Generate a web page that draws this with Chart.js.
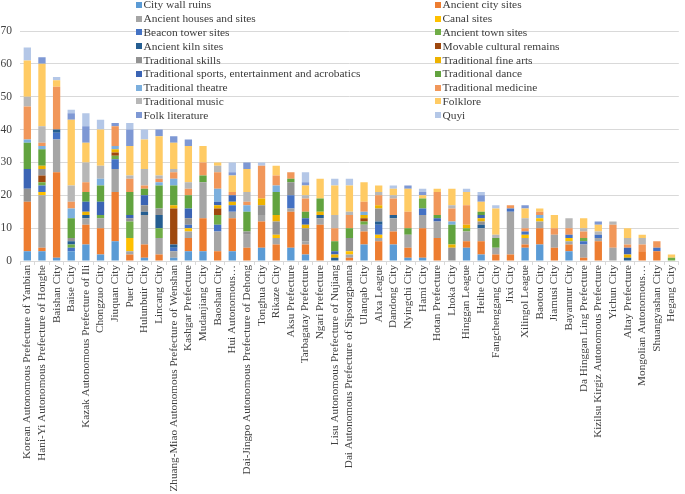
<!DOCTYPE html>
<html>
<head>
<meta charset="utf-8">
<script src="https://cdn.jsdelivr.net/npm/chart.js@4.4.0/dist/chart.umd.min.js"></script>
<style>
html,body{margin:0;padding:0;background:#ffffff;}
#wrap{position:relative;width:685px;height:494px;overflow:hidden;}
#legend{position:absolute;left:0;top:0;width:685px;height:130px;pointer-events:none;
  font-family:"Liberation Serif","Times New Roman",serif;font-size:11.4px;color:#3a3a3a;}
.lbox{position:absolute;width:6px;height:6px;}
.ltxt{position:absolute;white-space:nowrap;line-height:14px;}
</style>
</head>
<body>
<div id="wrap">
  <canvas id="c" width="685" height="494"></canvas>
  <div id="legend"></div>
</div>
<script>
const categories = [
  "Korean Autonomous Prefecture of Yanbian","Hani-Yi Autonomous Prefecture of Honghe","Baishan City","Baise City",
  "Kazak Autonomous Prefecture of Ili","Chongzuo City","Jiuquan City","Puer City","Hulunbuir City","Lincang City",
  "Zhuang-Miao Autonomous Prefecture of Wenshan","Kashgar Prefecture","Mudanjiang City","Baoshan City","Hui Autonomous…",
  "Dai-Jingpo Autonomous Prefecture of Dehong","Tonghua City","Rikaze City","Aksu Prefecture","Tarbagatay Prefecture",
  "Ngari Prefecture","Lisu Autonomous Prefecture of Nujiang","Dai Autonomous Prefecture of Sipsongpanna","Ulanqab City",
  "Alxa League","Dandong City","Nyingchi City","Hami City","Hotan Prefecture","Lhoka City","Hinggan League","Heihe City",
  "Fangchenggang City","Jixi City","Xilingol League","Baotou City","Jiamusi City","Bayannur City",
  "Da Hinggan Ling Prefecture","Kizilsu Kirgiz Autonomous Prefecture","Yichun City","Altay Prefecture",
  "Mongolian Autonomous…","Shuangyashan City","Hegang City"
];

const seriesNames = [
  "City wall ruins","Ancient city sites","Ancient houses and sites","Canal sites","Beacon tower sites",
  "Ancient town sites","Ancient kiln sites","Movable cultural remains","Traditional skills","Traditional fine arts",
  "Traditional sports, entertainment and acrobatics","Traditional dance","Traditional theatre","Traditional medicine",
  "Traditional music","Folklore","Folk literature","Quyi"
];

const cityWallRuins   = [3,3,1,3,5,2,6,0,1,0, 1,3,3,0,3,0,4,0,4,2, 0,0,0,5,0,5,1,1,0,0, 4,2,0,0,4,5,0,3,0,0, 0,0,0,0,0];
const ancientCity     = [15,1,26,0,6,8,15,2,4,2, 0,4,10,3,10,4,8,5,11,3, 11,0,1,4,6,4,3,9,7,0, 2,4,2,2,1,5,4,2,1,6, 0,0,3,3,0];
const ancientHouses   = [0,16,10,0,2,3,7,1,9,5, 2,2,11,6,2,4,2,2,1,1, 2,0,1,2,1,4,4,4,5,0, 3,4,2,13,2,2,4,1,4,1, 4,0,0,0,0];
const canalSites      = [0,1,0,0,0,0,0,4,0,0, 0,1,0,0,0,0,0,1,0,0, 0,0,1,0,1,0,0,0,0,0, 0,0,0,0,1,1,0,1,0,0, 0,0,0,0,0];
const beaconTower     = [0,2,2,1,0,0,3,0,0,0, 1,1,0,2,2,0,0,0,4,0, 0,0,0,0,3,0,0,2,0,0, 0,0,0,1,1,0,0,1,1,1, 0,0,0,1,0];
const ancientTown     = [0,1,0,1,0,1,1,5,0,3, 0,0,0,3,0,0,0,0,0,0, 0,0,0,1,0,0,0,3,0,0, 1,0,0,0,0,0,0,0,1,0, 0,0,0,0,1];
const ancientKiln     = [0,0,1,1,1,0,0,0,1,4, 1,0,0,0,0,0,0,0,0,0, 1,1,0,0,1,1,0,0,0,0, 0,1,0,0,0,0,0,0,0,0, 0,1,0,0,0];
const movableRemains  = [0,2,0,0,0,0,1,0,0,0, 11,0,0,2,0,0,0,0,0,0, 0,0,0,1,0,0,0,0,0,0, 0,0,0,0,0,0,0,0,0,0, 0,0,0,0,0];
const tradSkills      = [4,2,0,1,0,0,0,1,2,2, 0,2,0,0,0,1,3,4,4,4, 0,0,4,0,4,0,0,0,0,4, 0,1,0,0,0,0,0,0,0,0, 0,0,0,0,0];
const tradFineArts    = [0,1,0,0,1,0,1,0,0,0, 1,0,0,1,1,0,2,2,0,1, 1,1,0,1,1,0,0,0,0,1, 1,1,0,0,0,0,0,0,0,0, 0,1,0,0,0];
const tradSports      = [6,0,0,0,3,4,0,1,3,0, 0,3,0,1,2,0,0,0,0,2, 0,1,0,0,0,0,0,0,1,0, 0,1,0,0,0,0,0,0,0,0, 0,2,0,0,0];
const tradDance       = [8,5,0,6,3,5,0,7,2,7, 6,4,2,0,0,6,0,7,1,2, 4,3,3,0,0,0,2,0,1,6, 0,1,3,0,0,0,0,0,0,0, 0,0,0,0,0];
const tradTheatre     = [1,1,0,3,0,2,1,0,0,1, 2,0,0,4,0,2,0,2,0,0, 0,0,0,1,0,0,0,0,0,1, 0,0,0,0,0,1,0,0,0,0, 0,0,0,0,0];
const tradMedicine    = [10,1,13,2,3,0,6,4,1,1, 2,2,4,5,1,1,10,3,2,4, 0,4,4,3,3,5,5,0,7,4, 6,0,0,1,1,1,2,2,2,0, 7,1,2,2,0];
const tradMusic       = [3,5,0,5,6,4,0,1,5,1, 1,2,0,2,0,3,0,0,0,1, 0,4,1,0,1,1,0,0,0,1, 0,0,1,0,3,0,0,3,1,1, 1,2,2,0,0];
const folklore        = [11,19,2,20,6,11,0,9,9,12, 8,11,5,1,5,7,0,3,0,3, 6,9,8,6,2,2,7,1,1,5, 4,3,8,0,3,1,4,0,3,2, 0,3,1,0,1];
const folkLiterature  = [0,2,0,2,5,0,1,5,0,2, 2,2,0,0,1,2,0,0,0,1, 0,0,0,0,0,0,1,1,0,0, 0,2,0,0,1,0,0,0,0,1, 0,0,0,0,0];
const quyi            = [4,0,1,1,4,3,0,2,3,0, 0,0,0,0,3,0,1,0,0,3, 0,2,2,0,0,1,0,1,0,0, 1,1,1,0,0,0,0,0,0,0, 0,0,0,0,0];

const yTicks = [0,10,20,30,40,50,60,70];

const seriesValues = [cityWallRuins, ancientCity, ancientHouses, canalSites, beaconTower, ancientTown, ancientKiln,
  movableRemains, tradSkills, tradFineArts, tradSports, tradDance, tradTheatre, tradMedicine, tradMusic,
  folklore, folkLiterature, quyi];

const seriesColors = ["#5B9BD5","#ED7D31","#A5A5A5","#FFC000","#4472C4","#70AD47","#255E91","#9E480E",
  "#929292","#EDB200","#3B64B4","#62A33F","#7CAFDD","#F1975A","#B7B7B7","#FFCB64","#7E98D4","#B4C7E7"];

const FONT = "'Liberation Serif','Times New Roman',serif";

// HTML legend (two columns, drawn over the plot like the original)
const legendEl = document.getElementById('legend');
const colX = [136, 435];
seriesNames.forEach((name, i) => {
  const row = Math.floor(i / 2), col = i % 2;
  const yc = 4.8 + row * 13.8;
  const b = document.createElement('div');
  b.className = 'lbox';
  b.style.left = colX[col] + 'px';
  b.style.top = (yc - 3) + 'px';
  b.style.background = seriesColors[i];
  legendEl.appendChild(b);
  const t = document.createElement('div');
  t.className = 'ltxt';
  t.style.left = (colX[col] + 7.5) + 'px';
  t.style.top = (yc - 7.5) + 'px';
  t.textContent = name;
  legendEl.appendChild(t);
});

new Chart(document.getElementById('c').getContext('2d'), {
  type: 'bar',
  data: {
    labels: categories,
    datasets: seriesNames.map((n, i) => ({
      label: n,
      data: seriesValues[i],
      backgroundColor: seriesColors[i],
      borderWidth: 0,
      barPercentage: 0.5,
      categoryPercentage: 1.0
    }))
  },
  options: {
    responsive: false,
    animation: false,
    devicePixelRatio: 1,
    layout: { padding: { top: 31, right: 6, left: 0, bottom: 0 } },
    plugins: { legend: { display: false }, tooltip: { enabled: false } },
    scales: {
      x: {
        stacked: true,
        grid: { display: true, drawOnChartArea: false, drawTicks: true, tickLength: 4, color: '#D9D9D9', offset: true },
        border: { display: true, color: '#D9D9D9' },
        ticks: { autoSkip: false, maxRotation: 90, minRotation: 90, padding: 0,
                 color: '#404040', font: { family: FONT, size: 11.2 } },
        afterFit: (s) => { s.height = 233; }
      },
      y: {
        stacked: true,
        min: yTicks[0],
        max: yTicks[yTicks.length - 1],
        afterBuildTicks: (s) => { s.ticks = yTicks.map(v => ({ value: v })); },
        grid: { color: '#D9D9D9', drawTicks: false },
        border: { display: false },
        ticks: { padding: 8, color: '#404040', font: { family: FONT, size: 11.5 } },
        afterFit: (s) => { s.width = 20; }
      }
    }
  }
});
</script>
</body>
</html>
